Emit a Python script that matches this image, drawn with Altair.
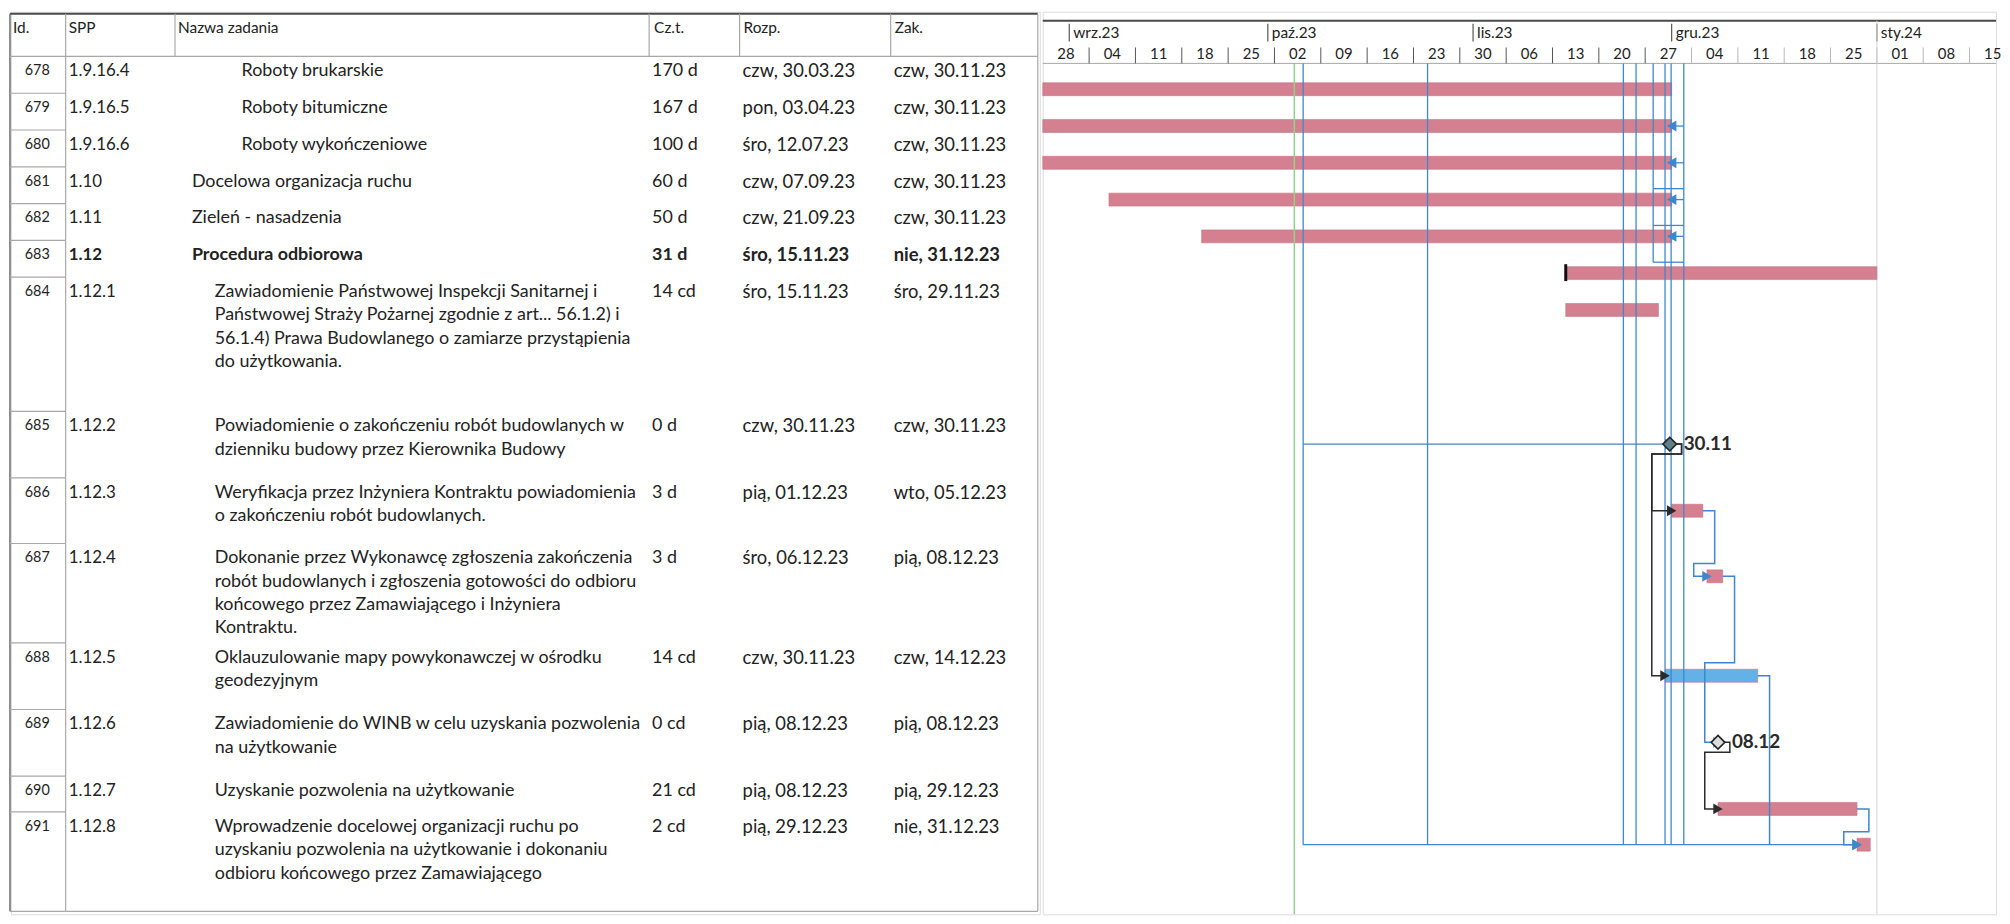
import altair as alt
import pandas as pd

# ---------------------------------------------------------------- chart values
task_ids = [678, 679, 680, 681, 682, 683, 684, 685, 686, 687, 688, 689, 690, 691]
wbs_codes = ["1.9.16.4", "1.9.16.5", "1.9.16.6", "1.10", "1.11", "1.12",
             "1.12.1", "1.12.2", "1.12.3", "1.12.4", "1.12.5", "1.12.6", "1.12.7", "1.12.8"]
task_names = [
    ["Roboty brukarskie"],
    ["Roboty bitumiczne"],
    ["Roboty wykończeniowe"],
    ["Docelowa organizacja ruchu"],
    ["Zieleń - nasadzenia"],
    ["Procedura odbiorowa"],
    ["Zawiadomienie Państwowej Inspekcji Sanitarnej i",
     "Państwowej Straży Pożarnej zgodnie z art... 56.1.2) i",
     "56.1.4) Prawa Budowlanego o zamiarze przystąpienia",
     "do użytkowania."],
    ["Powiadomienie o zakończeniu robót budowlanych w",
     "dzienniku budowy przez Kierownika Budowy"],
    ["Weryfikacja przez Inżyniera Kontraktu powiadomienia",
     "o zakończeniu robót budowlanych."],
    ["Dokonanie przez Wykonawcę zgłoszenia zakończenia",
     "robót budowlanych i zgłoszenia gotowości do odbioru",
     "końcowego przez Zamawiającego i Inżyniera",
     "Kontraktu."],
    ["Oklauzulowanie mapy powykonawczej w ośrodku", "geodezyjnym"],
    ["Zawiadomienie do WINB w celu uzyskania pozwolenia", "na użytkowanie"],
    ["Uzyskanie pozwolenia na użytkowanie"],
    ["Wprowadzenie docelowej organizacji ruchu po",
     "uzyskaniu pozwolenia na użytkowanie i dokonaniu",
     "odbioru końcowego przez Zamawiającego"],
]
outline_levels = [3, 3, 3, 1, 1, 1, 2, 2, 2, 2, 2, 2, 2, 2]
durations = ["170 d", "167 d", "100 d", "60 d", "50 d", "31 d", "14 cd", "0 d",
             "3 d", "3 d", "14 cd", "0 cd", "21 cd", "2 cd"]
start_labels = ["czw, 30.03.23", "pon, 03.04.23", "śro, 12.07.23", "czw, 07.09.23",
                "czw, 21.09.23", "śro, 15.11.23", "śro, 15.11.23", "czw, 30.11.23",
                "pią, 01.12.23", "śro, 06.12.23", "czw, 30.11.23", "pią, 08.12.23",
                "pią, 08.12.23", "pią, 29.12.23"]
finish_labels = ["czw, 30.11.23", "czw, 30.11.23", "czw, 30.11.23", "czw, 30.11.23",
                 "czw, 30.11.23", "nie, 31.12.23", "śro, 29.11.23", "czw, 30.11.23",
                 "wto, 05.12.23", "pią, 08.12.23", "czw, 14.12.23", "pią, 08.12.23",
                 "pią, 29.12.23", "nie, 31.12.23"]
bar_starts = ["2023-03-30T00:00", "2023-04-03T00:00", "2023-07-12T00:00", "2023-09-07T00:00",
              "2023-09-21T00:00", "2023-11-15T00:00", "2023-11-15T00:00", "2023-11-30T17:00",
              "2023-12-01T00:00", "2023-12-06T08:00", "2023-11-30T00:00", "2023-12-08T00:00",
              "2023-12-08T00:00", "2023-12-29T00:00"]
bar_ends = ["2023-12-01T00:00", "2023-12-01T00:00", "2023-12-01T00:00", "2023-12-01T00:00",
            "2023-12-01T00:00", "2024-01-01T00:00", "2023-11-29T00:00", "2023-11-30T17:00",
            "2023-12-05T17:00", "2023-12-08T17:00", "2023-12-14T00:00", "2023-12-08T00:00",
            "2023-12-29T00:00", "2023-12-31T00:00"]
task_types = ["task", "task", "task", "task", "task", "summary", "task", "milestone",
              "task", "task", "task", "milestone", "task", "task"]
on_critical_path = [True, True, True, True, True, True, True, True, True, True,
                    False, True, True, True]
summary_ids = [683]

# links between visible tasks: (from, to, colour, route)
task_links = [(685, 686, "dark", "loop"), (685, 688, "dark", "loop"),
              (686, 687, "blue", "loop"), (687, 689, "blue", "loop"),
              (689, 690, "dark", "loop"), (690, 691, "blue", "loop"),
              (688, 691, "blue", "drop")]
# link lanes coming down from predecessors above the visible rows
lane_dates = ["2023-10-06T08:00", "2023-10-25T03:00", "2023-11-23T17:00",
              "2023-11-25T15:00", "2023-11-28T05:00", "2023-11-30T00:00",
              "2023-11-30T22:00", "2023-12-02T20:00"]
lane_into = [685, 691]           # tasks fed by the first lane
ff_targets = [679, 680, 681, 682]  # finish arrows fed by the last lane
connector_rows = [681, 682, 683]   # short links between lane 5 and the last lane

status_date = "2023-10-05T00:00"
timescale_start = "2023-08-28T00:00"
timescale_end = "2024-01-19T00:00"
month_starts = ["2023-09-01", "2023-10-01", "2023-11-01", "2023-12-01", "2024-01-01"]
month_labels = ["wrz.23", "paź.23", "lis.23", "gru.23", "sty.24"]
week_starts = ["2023-08-28", "2023-09-04", "2023-09-11", "2023-09-18", "2023-09-25",
               "2023-10-02", "2023-10-09", "2023-10-16", "2023-10-23", "2023-10-30",
               "2023-11-06", "2023-11-13", "2023-11-20", "2023-11-27", "2023-12-04",
               "2023-12-11", "2023-12-18", "2023-12-25", "2024-01-01", "2024-01-08",
               "2024-01-15"]
week_labels = ["28", "04", "11", "18", "25", "02", "09", "16", "23", "30", "06", "13",
               "20", "27", "04", "11", "18", "25", "01", "08", "15"]

table_headers = ["Id.", "SPP", "Nazwa zadania", "Cz.t.", "Rozp.", "Zak."]

# ---------------------------------------------------------------- layout
PAGE_TOP, PAGE_BOTTOM = 8, 916
TABLE_LEFT, GANTT_LEFT = 8, 1043
TABLE_W, GANTT_W = 1035, 959
H = PAGE_BOTTOM - PAGE_TOP
HEADER_TOP, HEADER_BOTTOM = 10, 53
ROW_HEIGHTS = [37, 37, 37, 37, 37, 37, 135, 67, 66, 100, 67, 67, 36, 100]
FIRST_LINE, LINE_STEP = 15, 23.5
BAR_OFFSET, BAR_HALF = 23, 6.5
GANTT_SHIFT = 10
COLS = {"left": 7, "id_sep": 63, "wbs_sep": 173, "name_sep": 650, "dur_sep": 741,
        "start_sep": 893, "right": 1041,
        "id": 47, "wbs": 66, 1: 190, 2: 213, 3: 240, "dur": 653, "start": 744, "finish": 896}
HEADER_X = [10, 66, 176, 655, 745, 897]
HEADER_Y = 24
G_TOP, G_MONTH_Y, G_MONTH_T0, G_MONTH_T1 = 7, 19, 10, 28
G_WEEK_Y, G_WEEK_T0, G_HEAD_BOTTOM = 41, 34, 50

TEXT = "#222222"
GRID = "#a8a8a8"
RED = "#d27a8b"
LIGHT_BLUE = "#5aaee6"
LINK_BLUE = "#3f86cc"
DARK = "#2b2b2b"
FONT = "Lato"


def ts(s):
    return pd.to_datetime(s, format="ISO8601")


tops = []
acc = HEADER_BOTTOM
for h in ROW_HEIGHTS:
    tops.append(acc)
    acc += h
TABLE_BOTTOM = acc

# ---------------------------------------------------------------- table panel
cells = []
for i, tid in enumerate(task_ids):
    y0 = tops[i] + FIRST_LINE
    bold = tid in summary_ids
    cells.append(dict(x=COLS["id"], y=y0, text=str(tid), size=14.5, bold=False, side="r"))
    cells.append(dict(x=COLS["wbs"], y=y0, text=wbs_codes[i], size=17, bold=bold, side="l"))
    for k, line in enumerate(task_names[i]):
        cells.append(dict(x=COLS[outline_levels[i]], y=y0 + k * LINE_STEP, text=line,
                          size=18, bold=bold, side="l"))
    cells.append(dict(x=COLS["dur"], y=y0, text=durations[i], size=18, bold=bold, side="l"))
    cells.append(dict(x=COLS["start"], y=y0, text=start_labels[i], size=18.5, bold=bold, side="l"))
    cells.append(dict(x=COLS["finish"], y=y0, text=finish_labels[i], size=18.5, bold=bold, side="l"))
for hx, ht in zip(HEADER_X, table_headers):
    cells.append(dict(x=hx, y=HEADER_Y, text=ht, size=15.5, bold=False, side="l"))
cells = pd.DataFrame(cells)

tx = alt.Scale(domain=[TABLE_LEFT, GANTT_LEFT])
ty = alt.Scale(domain=[PAGE_TOP, PAGE_BOTTOM], reverse=True)


def tenc(**kw):
    return dict(x=alt.X("x:Q", scale=tx, axis=None), y=alt.Y("y:Q", scale=ty, axis=None), **kw)


lines = [
    dict(x=COLS["left"], x2=COLS["right"], y=HEADER_TOP, y2=HEADER_TOP, c="#4a4a4a", w=2.0),
    dict(x=COLS["left"], x2=COLS["left"], y=HEADER_TOP, y2=TABLE_BOTTOM, c="#6a6a6a", w=1.5),
    dict(x=COLS["id_sep"], x2=COLS["id_sep"], y=HEADER_TOP, y2=TABLE_BOTTOM, c=GRID, w=1.2),
    dict(x=COLS["right"], x2=COLS["right"], y=HEADER_TOP, y2=TABLE_BOTTOM, c=GRID, w=1.2),
    dict(x=COLS["left"], x2=COLS["right"], y=HEADER_BOTTOM, y2=HEADER_BOTTOM, c=GRID, w=1.2),
    dict(x=COLS["left"], x2=COLS["right"], y=TABLE_BOTTOM, y2=TABLE_BOTTOM, c=GRID, w=1.2),
]
for key in ["wbs_sep", "name_sep", "dur_sep", "start_sep"]:
    lines.append(dict(x=COLS[key], x2=COLS[key], y=HEADER_TOP, y2=HEADER_BOTTOM, c=GRID, w=1.2))
for t in tops[1:]:
    lines.append(dict(x=COLS["left"], x2=COLS["id_sep"], y=t, y2=t, c=GRID, w=1.2))
lines = pd.DataFrame(lines)

table_rules = alt.Chart(lines).mark_rule().encode(
    **tenc(x2="x2:Q", y2="y2:Q", color=alt.Color("c:N", scale=None),
           strokeWidth=alt.StrokeWidth("w:Q", scale=None)))
id_text = alt.Chart(cells[cells["side"] == "r"]).mark_text(
    align="right", baseline="middle", font=FONT, color=TEXT).encode(
    **tenc(text="text:N", size=alt.Size("size:Q", scale=None)))
reg_text = alt.Chart(cells[(cells["side"] == "l") & (~cells["bold"])]).mark_text(
    align="left", baseline="middle", font=FONT, color=TEXT).encode(
    **tenc(text="text:N", size=alt.Size("size:Q", scale=None)))
bold_text = alt.Chart(cells[(cells["side"] == "l") & (cells["bold"])]).mark_text(
    align="left", baseline="middle", font=FONT, fontWeight="bold", color=TEXT).encode(
    **tenc(text="text:N", size=alt.Size("size:Q", scale=None)))
table = alt.layer(table_rules, id_text, reg_text, bold_text).properties(
    width=TABLE_W, height=H)

# ---------------------------------------------------------------- gantt panel
D = pd.Timedelta
tasks = pd.DataFrame({
    "id": task_ids,
    "start": ts(bar_starts),
    "end": ts(bar_ends),
    "type": task_types,
    "color": [RED if c else LIGHT_BLUE for c in on_critical_path],
    "top": tops,
    "bottom": [t + h for t, h in zip(tops, ROW_HEIGHTS)],
})
tasks["ybar"] = tasks["top"] + BAR_OFFSET
tasks["y_lo"] = tasks["ybar"] - BAR_HALF
tasks["y_hi"] = tasks["ybar"] + BAR_HALF
T = tasks.set_index("id")
lanes_t = list(ts(lane_dates))

t0, t1 = ts(timescale_start), ts(timescale_end)
gx = alt.Scale(domain=[t0.isoformat(), t1.isoformat()], clamp=True)
gy = alt.Scale(domain=[PAGE_TOP - GANTT_SHIFT, PAGE_BOTTOM - GANTT_SHIFT], reverse=True)


def genc(xf="t", yf="y", **kw):
    return dict(x=alt.X(f"{xf}:T", scale=gx, axis=None),
                y=alt.Y(f"{yf}:Q", scale=gy, axis=None), **kw)


bottom_y = float(T.loc[691, "ybar"])
months_t = list(ts(month_starts))
weeks_t = list(ts(week_starts))

# header
head_rules = pd.DataFrame(
    [dict(t=t0, t2=t1, y=G_TOP, y2=G_TOP, c="#4a4a4a", w=2.0),
     dict(t=t0, t2=t1, y=G_HEAD_BOTTOM, y2=G_HEAD_BOTTOM, c=GRID, w=1.0)]
    + [dict(t=m, t2=m, y=G_MONTH_T0, y2=G_MONTH_T1, c="#555555", w=1.2) for m in months_t]
    + [dict(t=w, t2=w, y=G_WEEK_T0, y2=G_HEAD_BOTTOM,
            c="#555555" if w < months_t[3] else "#b5b5b5", w=1.0) for w in weeks_t[1:]]
    + [dict(t=months_t[-1], t2=months_t[-1], y=G_TOP, y2=PAGE_BOTTOM - GANTT_SHIFT,
            c="#d4d4d4", w=1.0)]
)
head_text = pd.DataFrame(
    [dict(t=m, y=G_MONTH_Y, text=l, size=15.5) for m, l in zip(months_t, month_labels)])
week_text = pd.DataFrame(
    [dict(t=w + D(hours=84), y=G_WEEK_Y, text=l, size=15)
     for w, l in zip(weeks_t, week_labels)])

header_rules = alt.Chart(head_rules).mark_rule().encode(
    **genc(x2="t2:T", y2="y2:Q", color=alt.Color("c:N", scale=None),
           strokeWidth=alt.StrokeWidth("w:Q", scale=None)))
month_layer = alt.Chart(head_text).mark_text(
    align="left", baseline="middle", font=FONT, color=TEXT, dx=4).encode(
    **genc(text="text:N", size=alt.Size("size:Q", scale=None)))
week_layer = alt.Chart(week_text).mark_text(
    align="center", baseline="middle", font=FONT, color=TEXT).encode(
    **genc(text="text:N", size=alt.Size("size:Q", scale=None)))

# bars
bars_df = tasks[tasks["type"] != "milestone"]
bars = alt.Chart(bars_df).mark_rect(opacity=0.95, stroke="#c46a7c", strokeWidth=0.6).encode(
    x=alt.X("start:T", scale=gx, axis=None), x2="end:T",
    y=alt.Y("y_lo:Q", scale=gy, axis=None), y2="y_hi:Q",
    color=alt.Color("color:N", scale=None))
summ = tasks[tasks["id"].isin(summary_ids)].copy()
summ["cap_lo"] = summ["ybar"] - 9
summ["cap_hi"] = summ["ybar"] + 8
summary_cap = alt.Chart(summ).mark_rule(color="#111111", strokeWidth=3).encode(
    x=alt.X("start:T", scale=gx, axis=None),
    y=alt.Y("cap_lo:Q", scale=gy, axis=None), y2="cap_hi:Q")

# status line
status = alt.Chart(pd.DataFrame({"t": [ts(status_date)], "y": [G_HEAD_BOTTOM],
                                 "y2": [PAGE_BOTTOM - GANTT_SHIFT]})).mark_rule(
    color="#8fd18f", strokeWidth=1.5).encode(**genc(y2="y2:Q"))

# lanes from predecessors above
lane_rows = []
for k, lt in enumerate(lanes_t):
    end_y = float(T.loc[connector_rows[-1], "ybar"] - 11) if k == 4 else bottom_y
    lane_rows.append(dict(t=lt, t2=lt, y=G_HEAD_BOTTOM, y2=end_y))
for tid in lane_into:
    yy = float(T.loc[tid, "ybar"])
    lane_rows.append(dict(t=lanes_t[0], t2=T.loc[tid, "start"], y=yy, y2=yy))
for tid in connector_rows:
    yy = float(T.loc[tid, "ybar"] - 11)
    lane_rows.append(dict(t=lanes_t[4], t2=lanes_t[-1], y=yy, y2=yy))
for tid in ff_targets:
    yy = float(T.loc[tid, "ybar"])
    lane_rows.append(dict(t=T.loc[tid, "end"], t2=lanes_t[-1], y=yy, y2=yy))
lane_df = pd.DataFrame(lane_rows)
lanes = alt.Chart(lane_df).mark_rule(color=LINK_BLUE, strokeWidth=1.3).encode(
    **genc(x2="t2:T", y2="y2:Q"))

# task-to-task links
path_rows, arrows = [], []
for n, (s, t, col, route) in enumerate(task_links):
    c = LINK_BLUE if col == "blue" else DARK
    xs, ys = T.loc[s, "end"], float(T.loc[s, "ybar"])
    xt, yt = T.loc[t, "start"], float(T.loc[t, "ybar"])
    out_x = xs + D(hours=43)
    if route == "drop":
        pts = [(xs, ys), (out_x, ys), (out_x, yt)]
    else:
        sib = [tt for (ss, tt, _, _) in task_links if ss == s]
        back_x = min(T.loc[tt, "start"] for tt in sib) - D(hours=48)
        mid_y = ys + 10 if T.loc[s, "type"] == "milestone" else float(T.loc[s, "bottom"]) + 10
        pts = [(xs, ys), (out_x, ys), (out_x, mid_y), (back_x, mid_y), (back_x, yt), (xt, yt)]
        arrows.append(dict(t=xt, y=yt, c=c,
                           dx=-12 if T.loc[t, "type"] == "milestone" else -6))
    for k, (px, py) in enumerate(pts):
        path_rows.append(dict(path=n, seq=k, t=px, y=py, c=c))
for tid in lane_into:
    arrows.append(dict(t=T.loc[tid, "start"], y=float(T.loc[tid, "ybar"]), c=LINK_BLUE,
                       dx=-12 if T.loc[tid, "type"] == "milestone" else -6))
paths = pd.DataFrame(path_rows)
links = alt.Chart(paths).mark_line(strokeWidth=1.5).encode(
    **genc(detail="path:N", order="seq:Q", color=alt.Color("c:N", scale=None)))

arrow_df = pd.DataFrame(arrows)
arrow_layers = []
for dxv in sorted(arrow_df["dx"].unique()):
    arrow_layers.append(alt.Chart(arrow_df[arrow_df["dx"] == dxv]).mark_point(
        shape="triangle-right", filled=True, size=120, opacity=1, dx=float(dxv)).encode(
        **genc(color=alt.Color("c:N", scale=None))))
ff_df = T.loc[ff_targets].reset_index()[["id", "end", "ybar"]]
ff_arrows = alt.Chart(ff_df).mark_point(
    shape="triangle-left", filled=True, size=120, opacity=1, color=LINK_BLUE, dx=6).encode(
    x=alt.X("end:T", scale=gx, axis=None), y=alt.Y("ybar:Q", scale=gy, axis=None))

# milestones
ms = tasks[tasks["type"] == "milestone"].copy()
ms["label"] = ms["start"].dt.strftime("%d.%m")
ms["fill"] = ["#5f7f8a", "#dcdcdc"]
diamonds = alt.Chart(ms).mark_point(
    shape="diamond", filled=True, size=190, opacity=1, stroke="#222222",
    strokeWidth=1.6).encode(
    x=alt.X("start:T", scale=gx, axis=None), y=alt.Y("ybar:Q", scale=gy, axis=None),
    fill=alt.Fill("fill:N", scale=None))
ms_labels = alt.Chart(ms).mark_text(
    align="left", baseline="middle", font=FONT, fontWeight="bold", fontSize=19,
    color="#2a2a2a", dx=14).encode(
    x=alt.X("start:T", scale=gx, axis=None), y=alt.Y("ybar:Q", scale=gy, axis=None),
    text="label:N")

gantt = alt.layer(
    header_rules, month_layer, week_layer, bars, summary_cap, status, lanes, links,
    *arrow_layers, ff_arrows, diamonds, ms_labels
).properties(width=GANTT_W, height=H)

chart = alt.hconcat(table, gantt, spacing=0).properties(
    padding=0, background="white"
).configure_view(stroke=None).configure(font=FONT)

chart.save("out.html", embed_options={"renderer": "svg", "actions": False})
